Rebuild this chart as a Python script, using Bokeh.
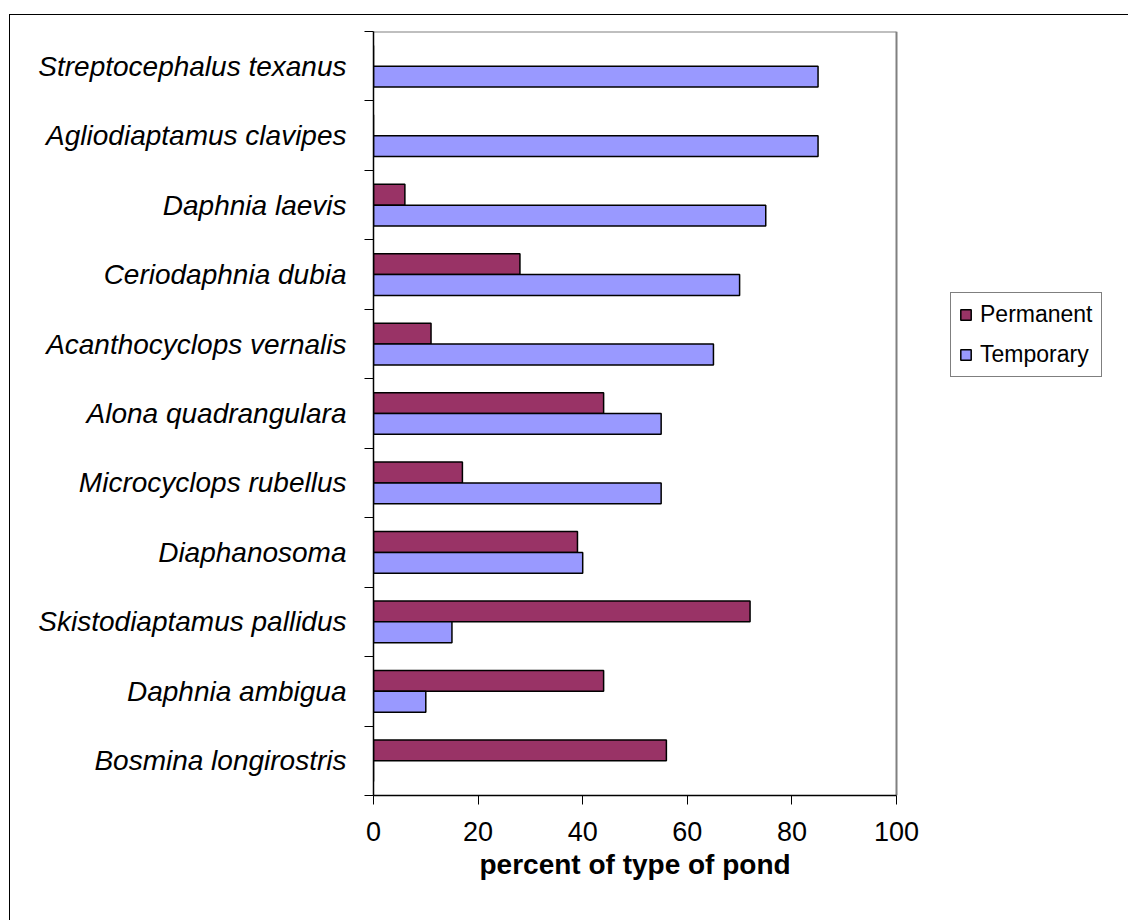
from bokeh.plotting import figure
from bokeh.models import Range1d, FixedTicker, Legend, LegendItem, ColumnDataSource, Title
from bokeh.transform import dodge
from bokeh.embed import file_html
from bokeh.resources import INLINE

species = ["Streptocephalus texanus", "Agliodiaptamus clavipes", "Daphnia laevis",
           "Ceriodaphnia dubia", "Acanthocyclops vernalis", "Alona quadrangulara",
           "Microcyclops rubellus", "Diaphanosoma", "Skistodiaptamus pallidus",
           "Daphnia ambigua", "Bosmina longirostris"]
permanent = [0, 0, 6, 28, 11, 44, 17, 39, 72, 44, 56]
temporary = [85, 85, 75, 70, 65, 55, 55, 40, 15, 10, 0]
x_ticks = [0, 20, 40, 60, 80, 100]
x_title = "percent of type of pond"
series_names = ["Permanent", "Temporary"]
series_colors = ["#993366", "#9999FF"]

n = len(species)
pos = [n - 0.5 - i for i in range(n)]
FONT = "Liberation Sans"

FIG_W, FIG_H = 1119, 906
LEFT, RIGHT, TOP, BOTTOM = 363, 0, 16, 126
PLOT_PX = 523  # pixel width of the 0..100 value span
frame_w = FIG_W - LEFT - RIGHT
x_end = x_ticks[-1] * frame_w / PLOT_PX

p = figure(width=FIG_W, height=FIG_H, x_range=Range1d(0, x_end), y_range=Range1d(0, n),
           output_backend="svg", toolbar_location=None,
           min_border_left=LEFT, min_border_right=RIGHT, min_border_top=TOP,
           min_border_bottom=BOTTOM)
p.styles = {"margin-left": "9px", "margin-top": "14px",
            "border-left": "1px solid black", "border-top": "1px solid black"}
p.xgrid.visible = False
p.ygrid.visible = False
p.outline_line_color = None
p.background_fill_color = "white"
p.border_fill_color = "white"

# plot-area border (top and right), grey
p.segment(x0=[x_ticks[0], x_ticks[-1]], y0=[n, 0], x1=[x_ticks[-1], x_ticks[-1]], y1=[n, n],
          line_color="#808080", line_width=2)

src = ColumnDataSource(dict(y=pos, perm=permanent, temp=temporary))
r1 = p.hbar(y=dodge("y", 0.15), left=0, right="perm", height=0.3, source=src,
            fill_color=series_colors[0], line_color="black", line_width=1.5)
r2 = p.hbar(y=dodge("y", -0.15), left=0, right="temp", height=0.3, source=src,
            fill_color=series_colors[1], line_color="black", line_width=1.5)

# y axis
ya = p.yaxis[0]
ya.ticker = FixedTicker(ticks=pos, minor_ticks=list(range(0, n + 1)))
ya.major_label_overrides = {pos[i]: species[i] for i in range(n)}
ya.major_tick_out = 0
ya.major_tick_in = 0
ya.minor_tick_out = 9
ya.minor_tick_in = 0
ya.minor_tick_line_color = "black"
ya.axis_line_color = "black"
ya.axis_line_width = 1.5
ya.major_label_text_font = FONT
ya.major_label_text_font_style = "italic"
ya.major_label_text_font_size = "28px"
ya.major_label_text_color = "black"
ya.major_label_standoff = 18

# x axis
xa = p.xaxis[0]
xa.bounds = (x_ticks[0], x_ticks[-1])
xa.ticker = FixedTicker(ticks=x_ticks, minor_ticks=[])
xa.major_tick_out = 9
xa.major_tick_in = 0
xa.major_tick_line_color = "black"
xa.axis_line_color = "black"
xa.axis_line_width = 1.5
xa.major_label_text_font = FONT
xa.major_label_text_font_size = "27px"
xa.major_label_text_color = "black"
xa.major_label_standoff = 17

# x-axis title, centred under the 0..100 span
title = Title(text=x_title, align="left", offset=106, standoff=7,
              text_font=FONT, text_font_style="bold", text_font_size="28px",
              text_color="black")
p.add_layout(title, "below")

legend = Legend(items=[LegendItem(label=series_names[0], renderers=[r1]),
                       LegendItem(label=series_names[1], renderers=[r2])],
                location=(577, 418))
legend.label_text_font = FONT
legend.label_text_font_size = "23px"
legend.label_text_color = "black"
legend.glyph_width = 13
legend.glyph_height = 13
legend.label_standoff = 8
legend.spacing = 13
legend.padding = 8
legend.margin = 0
legend.border_line_color = "black"
legend.border_line_width = 1
legend.background_fill_alpha = 1
p.add_layout(legend)

open("out.html", "w").write(file_html(p, INLINE))
